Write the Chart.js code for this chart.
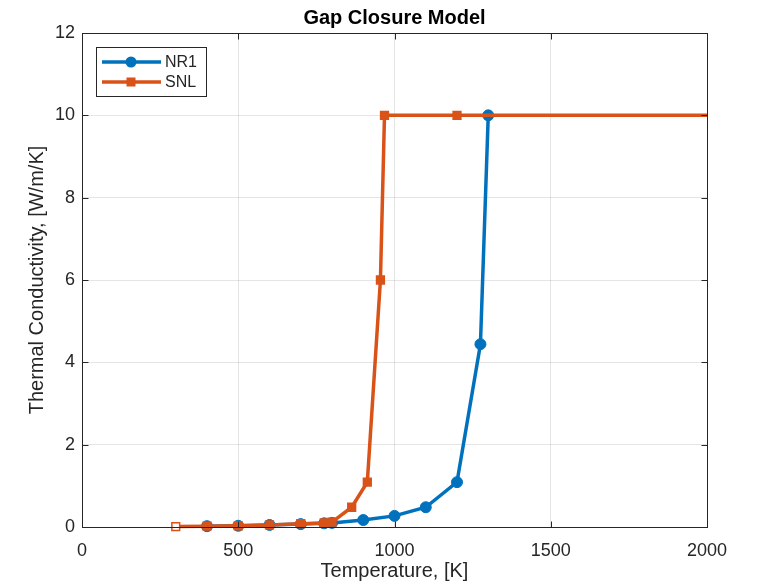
<!DOCTYPE html>
<html>
<head>
<meta charset="utf-8">
<script src="https://cdn.jsdelivr.net/npm/chart.js@4.4.1/dist/chart.umd.min.js"></script>
<style>
  body { margin: 0; background: #fff; }
  canvas { display: block; }
</style>
</head>
<body>
<canvas id="gapChart" width="758" height="588"></canvas>
<script>
// gap conductance vs temperature for the two closure models
const nr1Temp = [400, 500, 600, 700, 775, 800, 900, 1000, 1100, 1200, 1275, 1300];
const nr1K = [0.02, 0.03, 0.05, 0.07, 0.09, 0.10, 0.17, 0.27, 0.48, 1.09, 4.44, 10];
const snlTemp = [300, 400, 500, 600, 700, 775, 800, 863, 913, 955, 968, 1200, 2500];
const snlK = [0.01, 0.02, 0.03, 0.05, 0.08, 0.10, 0.12, 0.48, 1.09, 6, 10, 10, 10];

const xTicks = [0, 500, 1000, 1500, 2000];
const yTicks = [0, 2, 4, 6, 8, 10, 12];

const BLUE = "#0072BD";
const ORANGE = "#D95319";
const AXIS = "#262626";
const FONT = "'Liberation Sans', Arial, sans-serif";

const toPoints = (xs, ys) => xs.map((x, i) => ({ x: x, y: ys[i] }));

// box, inward ticks, title and legend in MATLAB style
const matlabFrame = {
    id: "matlabFrame",
    afterDraw(chart) {
        const ctx = chart.ctx;
        const a = chart.chartArea;
        const xs = chart.scales.x, ys = chart.scales.y;
        const L = Math.round(a.left) + 0.5, R = Math.round(a.right) + 0.5;
        const T = Math.round(a.top) + 0.5, B = Math.round(a.bottom) + 0.5;
        const tick = 6;

        ctx.save();
        ctx.strokeStyle = AXIS;
        ctx.lineWidth = 1;
        ctx.strokeRect(L, T, R - L, B - T);

        ctx.beginPath();
        xTicks.forEach(v => {
            const px = Math.round(xs.getPixelForValue(v)) + 0.5;
            ctx.moveTo(px, B); ctx.lineTo(px, B - tick);
            ctx.moveTo(px, T); ctx.lineTo(px, T + tick);
        });
        yTicks.forEach(v => {
            const py = Math.round(ys.getPixelForValue(v)) + 0.5;
            ctx.moveTo(L, py); ctx.lineTo(L + tick, py);
            ctx.moveTo(R, py); ctx.lineTo(R - tick, py);
        });
        ctx.stroke();

        // title
        ctx.fillStyle = "#000";
        ctx.font = "bold 20px " + FONT;
        ctx.textAlign = "center";
        ctx.textBaseline = "middle";
        ctx.fillText("Gap Closure Model", (a.left + a.right) / 2, 18);

        // legend box
        const bx = 96.5, by = 47.5, bw = 110, bh = 49;
        ctx.fillStyle = "#fff";
        ctx.fillRect(bx, by, bw, bh);
        ctx.strokeStyle = AXIS;
        ctx.strokeRect(bx, by, bw, bh);

        ctx.font = "16px " + FONT;
        ctx.textAlign = "left";
        chart.data.datasets.forEach((ds, i) => {
            const ly = 62 + i * 20;
            ctx.strokeStyle = ds.borderColor;
            ctx.lineWidth = ds.borderWidth;
            ctx.beginPath();
            ctx.moveTo(102, ly); ctx.lineTo(161, ly);
            ctx.stroke();
            ctx.fillStyle = ds.borderColor;
            if (ds.pointStyle === "rect") {
                ctx.fillRect(131 - 4.5, ly - 4.5, 9, 9);
            } else {
                ctx.beginPath();
                ctx.arc(131, ly, 5.5, 0, Math.PI * 2);
                ctx.fill();
            }
            ctx.fillStyle = AXIS;
            ctx.fillText(ds.label, 165, ly + 1);
        });
        ctx.restore();
    }
};

const ctx = document.getElementById("gapChart").getContext("2d");
new Chart(ctx, {
    type: "scatter",
    data: {
        datasets: [
            {
                label: "NR1",
                data: toPoints(nr1Temp, nr1K),
                order: 1,
                showLine: true,
                borderColor: BLUE,
                backgroundColor: BLUE,
                borderWidth: 3.5,
                pointStyle: "circle",
                pointRadius: 5.5,
                pointBorderWidth: 1,
                pointHoverRadius: 5.5,
                clip: { left: 10, top: 10, right: 0, bottom: 10 }
            },
            {
                label: "SNL",
                data: toPoints(snlTemp, snlK),
                order: 0,
                showLine: true,
                borderColor: ORANGE,
                backgroundColor: ORANGE,
                pointBackgroundColor: snlTemp.map((t, i) => i === 0 ? "#fff" : ORANGE),
                borderWidth: 3.5,
                pointStyle: "rect",
                pointRadius: 5.5,
                pointBorderWidth: 1.5,
                pointHoverRadius: 5.5,
                clip: { left: 10, top: 10, right: 0, bottom: 10 }
            }
        ]
    },
    options: {
        responsive: false,
        animation: false,
        layout: { padding: { top: 33, right: 51, left: 0, bottom: 0 } },
        plugins: {
            legend: { display: false },
            tooltip: { enabled: false }
        },
        scales: {
            x: {
                type: "linear",
                min: 0,
                max: 2000,
                afterFit: s => { s.height = 61; },
                afterBuildTicks: s => { s.ticks = xTicks.map(v => ({ value: v })); },
                border: { display: false },
                grid: { color: "rgba(38,38,38,0.12)", drawTicks: false },
                ticks: {
                    padding: 13,
                    color: AXIS,
                    maxRotation: 0,
                    callback: v => String(v),
                    font: { family: FONT, size: 18 }
                },
                title: {
                    display: true,
                    text: "Temperature, [K]",
                    color: AXIS,
                    padding: { top: 0, bottom: 5 },
                    font: { family: FONT, size: 20 }
                }
            },
            y: {
                type: "linear",
                min: 0,
                max: 12,
                afterFit: s => { s.width = 82; },
                afterBuildTicks: s => { s.ticks = yTicks.map(v => ({ value: v })); },
                border: { display: false },
                grid: { color: "rgba(38,38,38,0.12)", drawTicks: false },
                ticks: {
                    padding: 7,
                    color: AXIS,
                    callback: v => String(v),
                    font: { family: FONT, size: 18 }
                },
                title: {
                    display: true,
                    text: "Thermal Conductivity, [W/m/K]",
                    color: AXIS,
                    padding: { top: 25, bottom: 0 },
                    font: { family: FONT, size: 20 }
                }
            }
        }
    },
    plugins: [matlabFrame]
});
</script>
</body>
</html>
